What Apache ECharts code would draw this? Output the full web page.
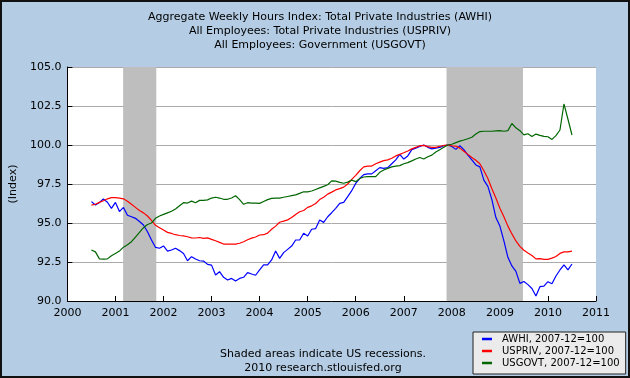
<!DOCTYPE html>
<html>
<head>
<meta charset="utf-8">
<script src="https://cdn.jsdelivr.net/npm/echarts@6/dist/echarts.min.js"></script>
<style>
html,body{margin:0;padding:0;background:#B4CDE4;}
#c{width:630px;height:378px;}
</style>
</head>
<body>
<div id="c"></div>
<script>
// Monthly observations, July 2000 through July 2010
const startYear = 2000;
const startMonth = 7;

const awhi = [
  96.37, 96.15, 96.32, 96.54, 96.33, 95.94, 96.32, 95.73, 96.0, 95.5,
  95.4, 95.3, 95.1, 94.87, 94.44, 93.91, 93.44, 93.38, 93.53, 93.2,
  93.27, 93.38, 93.23, 93.05, 92.58, 92.84, 92.69, 92.58, 92.56, 92.35,
  92.3, 91.67, 91.88, 91.52, 91.35, 91.45, 91.28, 91.45, 91.52, 91.82,
  91.73, 91.65, 92.0, 92.31, 92.31, 92.63, 93.2, 92.73, 93.1, 93.31,
  93.52, 93.91, 93.91, 94.34, 94.17, 94.6, 94.64, 95.19, 95.04, 95.4,
  95.66, 95.94, 96.26, 96.32, 96.69, 97.07, 97.54, 97.85, 98.1, 98.15,
  98.15, 98.35, 98.55, 98.5, 98.55, 98.8, 99.05, 99.4, 99.1, 99.3,
  99.7, 99.8, 99.9, 100.0, 99.85, 99.75, 99.8, 99.85, 99.95, 100.0,
  99.9, 99.72, 99.95, 99.7, 99.35, 99.05, 98.72, 98.6, 97.75, 97.35,
  96.5, 95.35, 94.8, 93.85, 92.8, 92.25, 91.9, 91.13, 91.25, 91.05,
  90.8, 90.32, 90.92, 90.95, 91.24, 91.1, 91.6, 91.99, 92.31, 92.0,
  92.37
];

const uspriv = [
  96.15, 96.2, 96.32, 96.43, 96.55, 96.63, 96.63, 96.6, 96.55, 96.4,
  96.2, 96.0, 95.8, 95.65, 95.45, 95.17, 94.85, 94.7, 94.55, 94.4,
  94.33, 94.25, 94.2, 94.17, 94.12, 94.05, 94.04, 94.07, 94.02, 94.05,
  93.95, 93.86, 93.76, 93.65, 93.65, 93.65, 93.65, 93.7, 93.8, 93.93,
  94.03, 94.1, 94.23, 94.25, 94.35, 94.6, 94.8, 95.05, 95.12, 95.2,
  95.35, 95.55, 95.72, 95.8, 96.0, 96.1, 96.25, 96.5, 96.65, 96.85,
  96.98, 97.12, 97.2, 97.3, 97.5, 97.8, 98.05, 98.35, 98.6, 98.65,
  98.65, 98.8, 98.9, 99.0, 99.05, 99.15, 99.3, 99.4, 99.5, 99.62,
  99.75, 99.85, 99.95, 99.98, 99.9, 99.85, 99.85, 99.92, 99.97, 100.0,
  99.95, 99.93, 99.8, 99.6, 99.4, 99.2, 99.02, 98.8, 98.35, 97.85,
  97.2, 96.6, 95.95, 95.4, 94.8, 94.3, 93.85, 93.5, 93.25, 93.08,
  92.92, 92.7, 92.72, 92.67, 92.67, 92.75, 92.85, 93.05, 93.15, 93.15,
  93.2
];

const usgovt = [
  93.27, 93.15, 92.7, 92.68, 92.7, 92.9, 93.05, 93.2, 93.45, 93.6,
  93.8, 94.1, 94.4, 94.7, 94.9, 95.0, 95.3, 95.45, 95.55, 95.65,
  95.75, 95.9, 96.1, 96.3, 96.28, 96.4, 96.3, 96.45, 96.45, 96.48,
  96.6, 96.65, 96.6, 96.52, 96.52, 96.6, 96.75, 96.5, 96.2, 96.3,
  96.28, 96.27, 96.26, 96.38, 96.5, 96.58, 96.6, 96.6, 96.65, 96.7,
  96.75, 96.8, 96.9, 97.0, 97.0, 97.05, 97.15, 97.25, 97.35, 97.45,
  97.7, 97.68, 97.6, 97.55, 97.62, 97.75, 97.65, 97.85, 97.95, 97.97,
  97.97, 97.97, 98.25, 98.4, 98.5, 98.6, 98.65, 98.68, 98.8, 98.87,
  98.98, 99.1, 99.2, 99.1, 99.25, 99.35, 99.55, 99.7, 99.85, 100.0,
  100.05, 100.15, 100.25, 100.32, 100.4, 100.5, 100.7, 100.86, 100.88, 100.88,
  100.88, 100.9, 100.92, 100.88, 100.92, 101.38, 101.1, 100.92, 100.65, 100.72,
  100.55, 100.7, 100.62, 100.55, 100.53, 100.36, 100.6, 100.96, 102.63, 101.65,
  100.64
];

// US recessions (decimal years)
const recessions = [[2001.16, 2001.85], [2007.89, 2009.48]];

const seriesNames = ['AWHI, 2007-12=100', 'USPRIV, 2007-12=100', 'USGOVT, 2007-12=100'];
const titleLines = [
  'Aggregate Weekly Hours Index: Total Private Industries (AWHI)',
  'All Employees: Total Private Industries (USPRIV)',
  'All Employees: Government (USGOVT)'
];
const footLines = ['Shaded areas indicate US recessions.', '2010 research.stlouisfed.org'];
const yName = '(Index)';

function toXY(vals) {
  return vals.map(function (v, k) {
    const m = startMonth - 1 + k;
    return [startYear + m / 12, v];
  });
}

const FONT = 'DejaVu Sans';
const chart = echarts.init(document.getElementById('c'), null, {renderer: 'canvas'});
chart.setOption({
  animation: false,
  backgroundColor: '#B4CDE4',
  title: [{
    text: titleLines.join('\n'),
    left: 315, top: 5, textAlign: 'center',
    textStyle: {fontFamily: FONT, fontSize: 11, fontWeight: 'normal', color: '#000', lineHeight: 14}
  }, {
    text: footLines.join('\n'),
    left: 318, top: 342, textAlign: 'center',
    textStyle: {fontFamily: FONT, fontSize: 11, fontWeight: 'normal', color: '#000', lineHeight: 14}
  }],
  legend: {
    left: 473, top: 332, orient: 'vertical',
    icon: 'rect', itemWidth: 10, itemHeight: 2.5, itemGap: 0,
    backgroundColor: '#EBEBEB', borderColor: '#222', borderWidth: 1,
    padding: [1, 6, 5, 9],
    textStyle: {fontFamily: FONT, fontSize: 10, color: '#000', lineHeight: 12, padding: [0, 0, 0, 5]},
    data: seriesNames
  },
  grid: {left: 66, right: 34, top: 67, bottom: 77, show: true, backgroundColor: '#fff', borderWidth: 0, containLabel: false},
  xAxis: {
    type: 'value', min: 2000, max: 2011, interval: 1,
    axisLine: {show: true, lineStyle: {color: '#000', width: 1}},
    axisTick: {show: true, inside: true, length: 5, lineStyle: {color: '#000'}},
    axisLabel: {fontFamily: FONT, fontSize: 11, color: '#000', margin: 7, formatter: function (v) { return String(v); }},
    splitLine: {show: false}
  },
  yAxis: {
    type: 'value', min: 90, max: 105, interval: 2.5,
    name: yName, nameLocation: 'middle', nameGap: 48, nameRotate: 90,
    nameTextStyle: {fontFamily: FONT, fontSize: 11, color: '#000'},
    axisLine: {show: true, lineStyle: {color: '#000', width: 1}},
    axisTick: {show: true, inside: true, length: 5, lineStyle: {color: '#000'}},
    axisLabel: {fontFamily: FONT, fontSize: 11, color: '#000', margin: 6, formatter: function (v) { return v.toFixed(1); }},
    splitLine: {show: true, lineStyle: {color: '#AAAAAA', width: 1}}
  },
  graphic: [{
    type: 'rect', silent: true, z: 100,
    shape: {x: 1, y: 1, width: 628, height: 376},
    style: {fill: null, stroke: '#111', lineWidth: 2}
  }],
  series: [{
    name: seriesNames[0], type: 'line', data: toXY(awhi), showSymbol: false, symbol: 'none',
    lineStyle: {color: '#0000FF', width: 1.2}, itemStyle: {color: '#0000FF'}, z: 3,
    markArea: {
      silent: true, z: 1,
      itemStyle: {color: '#BEBEBE', opacity: 1},
      data: recessions.map(function (r) { return [{xAxis: r[0]}, {xAxis: r[1]}]; })
    }
  }, {
    name: seriesNames[1], type: 'line', data: toXY(uspriv), showSymbol: false, symbol: 'none',
    lineStyle: {color: '#FF0000', width: 1.2}, itemStyle: {color: '#FF0000'}, z: 3
  }, {
    name: seriesNames[2], type: 'line', data: toXY(usgovt), showSymbol: false, symbol: 'none',
    lineStyle: {color: '#006600', width: 1.2}, itemStyle: {color: '#006600'}, z: 3
  }]
});
</script>
</body>
</html>
